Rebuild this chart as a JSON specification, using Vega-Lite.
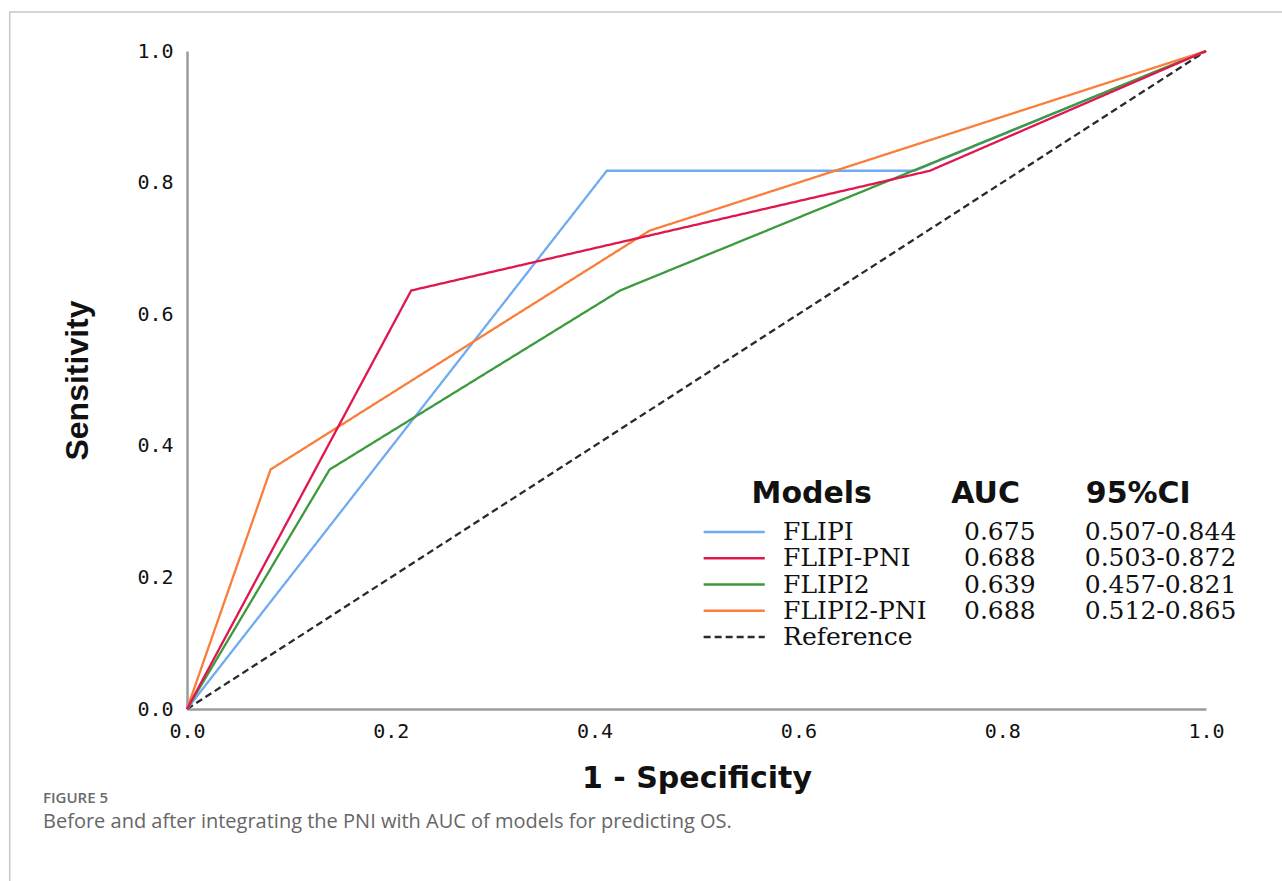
{
  "$schema": "https://vega.github.io/schema/vega-lite/v6.json",
  "width": 1019,
  "height": 658,
  "autosize": "none",
  "padding": {"left": 187, "top": 51, "right": 76, "bottom": 172},
  "background": "white",
  "config": {"view": {"stroke": null}, "axis": {"grid": false, "ticks": false}},
  "datasets": {
    "roc": [
      {"model": "Reference", "fpr": 0, "tpr": 0},
      {"model": "Reference", "fpr": 1, "tpr": 1},
      {"model": "FLIPI", "fpr": 0, "tpr": 0},
      {"model": "FLIPI", "fpr": 0.412, "tpr": 0.818},
      {"model": "FLIPI", "fpr": 0.714, "tpr": 0.818},
      {"model": "FLIPI", "fpr": 1, "tpr": 1},
      {"model": "FLIPI2", "fpr": 0, "tpr": 0},
      {"model": "FLIPI2", "fpr": 0.14, "tpr": 0.364},
      {"model": "FLIPI2", "fpr": 0.425, "tpr": 0.636},
      {"model": "FLIPI2", "fpr": 1, "tpr": 1},
      {"model": "FLIPI2-PNI", "fpr": 0, "tpr": 0},
      {"model": "FLIPI2-PNI", "fpr": 0.082, "tpr": 0.364},
      {"model": "FLIPI2-PNI", "fpr": 0.454, "tpr": 0.727},
      {"model": "FLIPI2-PNI", "fpr": 1, "tpr": 1},
      {"model": "FLIPI-PNI", "fpr": 0, "tpr": 0},
      {"model": "FLIPI-PNI", "fpr": 0.22, "tpr": 0.636},
      {"model": "FLIPI-PNI", "fpr": 0.729, "tpr": 0.818},
      {"model": "FLIPI-PNI", "fpr": 1, "tpr": 1}
    ],
    "legend": [
      {"model": "FLIPI", "auc": "0.675", "ci": "0.507-0.844"},
      {"model": "FLIPI-PNI", "auc": "0.688", "ci": "0.503-0.872"},
      {"model": "FLIPI2", "auc": "0.639", "ci": "0.457-0.821"},
      {"model": "FLIPI2-PNI", "auc": "0.688", "ci": "0.512-0.865"},
      {"model": "Reference", "auc": "", "ci": ""}
    ],
    "headers": [
      {"models": "Models", "auc": "AUC", "ci": "95%CI", "figure": "FIGURE 5", "caption": "Before and after integrating the PNI with AUC of models for predicting OS."}
    ]
  },
  "resolve": {"scale": {"y": "independent"}},
  "layer": [
    {
      "layer": [
        {
          "data": {"name": "headers"},
          "mark": {"type": "rect", "filled": false, "stroke": "#c8c8c8", "strokeWidth": 1.5, "clip": false},
          "encoding": {
            "x": {"datum": -0.174, "type": "quantitative"},
            "x2": {"datum": 1.2},
            "y": {"datum": 1.0593, "type": "quantitative"},
            "y2": {"datum": -0.5}
          }
        },
        {
          "data": {"name": "roc"},
          "mark": {"type": "line", "strokeWidth": 2.3, "clip": false},
          "encoding": {
            "x": {
              "field": "fpr", "type": "quantitative",
              "scale": {"domain": [0, 1], "nice": false, "zero": false},
              "axis": {
                "values": [0, 0.2, 0.4, 0.6, 0.8, 1.0], "format": ".1f",
                "labelFont": "DejaVu Sans Mono", "labelFontSize": 20, "labelColor": "#111",
                "labelPadding": 12, "labelFlush": false,
                "domainColor": "#9b9b9b", "domainWidth": 2.5,
                "title": "1 - Specificity", "titleFont": "DejaVu Sans", "titleFontSize": 30,
                "titleFontWeight": "bold", "titleColor": "#111", "titlePadding": 22
              }
            },
            "y": {
              "field": "tpr", "type": "quantitative",
              "scale": {"domain": [0, 1], "nice": false, "zero": false},
              "axis": {
                "values": [0, 0.2, 0.4, 0.6, 0.8, 1.0], "format": ".1f",
                "labelFont": "DejaVu Sans Mono", "labelFontSize": 20, "labelColor": "#111",
                "labelPadding": 14, "labelFlush": false,
                "domainColor": "#9b9b9b", "domainWidth": 2.5,
                "title": "Sensitivity", "titleFont": "Liberation Sans", "titleFontSize": 32,
                "titleFontWeight": "bold", "titleColor": "#111", "titlePadding": 42
              }
            },
            "color": {
              "field": "model", "type": "nominal",
              "scale": {
                "domain": ["FLIPI", "FLIPI-PNI", "FLIPI2", "FLIPI2-PNI", "Reference"],
                "range": ["#70abf2", "#e0174e", "#3c9a3c", "#fa7d3c", "#2a2a2a"]
              },
              "legend": null
            },
            "strokeDash": {
              "field": "model", "type": "nominal",
              "scale": {
                "domain": ["FLIPI", "FLIPI-PNI", "FLIPI2", "FLIPI2-PNI", "Reference"],
                "range": [[1, 0], [1, 0], [1, 0], [1, 0], [7, 4]]
              },
              "legend": null
            }
          }
        },
        {
          "data": {"name": "headers"},
          "mark": {"type": "text", "align": "left", "baseline": "middle", "font": "DejaVu Sans", "fontWeight": "bold", "fontSize": 30, "color": "#111"},
          "encoding": {
            "x": {"datum": 0.554, "type": "quantitative"},
            "y": {"datum": 0.327, "type": "quantitative"},
            "text": {"field": "models"}
          }
        },
        {
          "data": {"name": "headers"},
          "mark": {"type": "text", "align": "left", "baseline": "middle", "font": "DejaVu Sans", "fontWeight": "bold", "fontSize": 30, "color": "#111"},
          "encoding": {
            "x": {"datum": 0.75, "type": "quantitative"},
            "y": {"datum": 0.327, "type": "quantitative"},
            "text": {"field": "auc"}
          }
        },
        {
          "data": {"name": "headers"},
          "mark": {"type": "text", "align": "left", "baseline": "middle", "font": "DejaVu Sans", "fontWeight": "bold", "fontSize": 30, "color": "#111"},
          "encoding": {
            "x": {"datum": 0.882, "type": "quantitative"},
            "y": {"datum": 0.327, "type": "quantitative"},
            "text": {"field": "ci"}
          }
        },
        {
          "data": {"name": "headers"},
          "mark": {"type": "text", "align": "left", "baseline": "middle", "font": "Open Sans", "fontWeight": 600, "fontSize": 15, "color": "#6a6a6a"},
          "encoding": {
            "x": {"datum": -0.1413, "type": "quantitative"},
            "y": {"datum": -0.1353, "type": "quantitative"},
            "text": {"field": "figure"}
          }
        },
        {
          "data": {"name": "headers"},
          "mark": {"type": "text", "align": "left", "baseline": "middle", "font": "Open Sans", "fontSize": 20, "color": "#666666"},
          "encoding": {
            "x": {"datum": -0.1413, "type": "quantitative"},
            "y": {"datum": -0.1717, "type": "quantitative"},
            "text": {"field": "caption"}
          }
        }
      ]
    },
    {
      "data": {"name": "legend"},
      "encoding": {
        "y": {
          "field": "model", "type": "ordinal",
          "scale": {"type": "point", "domain": ["FLIPI", "FLIPI-PNI", "FLIPI2", "FLIPI2-PNI", "Reference"], "range": [481, 586], "padding": 0},
          "axis": null
        }
      },
      "layer": [
        {
          "mark": {"type": "rule", "strokeWidth": 2.3},
          "encoding": {
            "x": {"datum": 0.507, "type": "quantitative"},
            "x2": {"datum": 0.567},
            "color": {"field": "model", "type": "nominal", "legend": null},
            "strokeDash": {"field": "model", "type": "nominal", "legend": null}
          }
        },
        {
          "mark": {"type": "text", "align": "left", "baseline": "middle", "font": "DejaVu Serif", "fontSize": 25, "color": "#111"},
          "encoding": {
            "x": {"datum": 0.585, "type": "quantitative"},
            "text": {"field": "model"}
          }
        },
        {
          "mark": {"type": "text", "align": "left", "baseline": "middle", "font": "DejaVu Serif", "fontSize": 25, "color": "#111"},
          "encoding": {
            "x": {"datum": 0.7625, "type": "quantitative"},
            "text": {"field": "auc"}
          }
        },
        {
          "mark": {"type": "text", "align": "left", "baseline": "middle", "font": "DejaVu Serif", "fontSize": 25, "color": "#111"},
          "encoding": {
            "x": {"datum": 0.881, "type": "quantitative"},
            "text": {"field": "ci"}
          }
        }
      ]
    }
  ]
}
